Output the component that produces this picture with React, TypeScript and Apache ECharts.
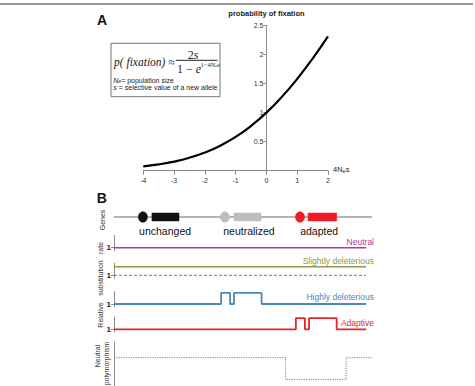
import React, { useEffect, useRef } from "react";
import * as echarts from "echarts";

// ---------- Panel A data ----------
const fixX = [-4, -3.5, -3, -2.5, -2, -1.5, -1, -0.5, 0, 0.5, 1, 1.5, 2];
const fixP = [0.075, 0.109, 0.157, 0.224, 0.313, 0.431, 0.582, 0.771, 1.0, 1.271, 1.582, 1.931, 2.313];
const xTicksA = [-4, -3, -2, -1, 0, 1, 2];
const yTicksA = [0.5, 1, 1.5, 2, 2.5];

// ---------- Panel B data (x along the gene, 0..100) ----------
const geneNames = ["unchanged", "neutralized", "adapted"];
const geneColors = ["#111111", "#bdbdbd", "#ee1d23"];
const geneDotX = [11.2, 43.0, 72.1];
const geneStartX = [14.7, 46.5, 75.2];
const geneEndX = [25.2, 57.0, 86.3];
const geneLabelX = [19.8, 52.3, 79.5];
const geneLine = [[0, 0.5], [100, 0.5]];

const rowNames = ["Neutral", "Slightly deleterious", "Highly deleterious", "Adaptive"];
const rowColors = ["#b03a9e", "#8e9b4e", "#4a88bd", "#e5252a"];
const neutralRate = [[0, 1], [97.7, 1]];
const slightRate = [[0, 1.77], [97.7, 1.77]];
const slightBase = [[0, 1], [97.7, 1]];
const highRate = [[0, 1], [41.5, 1], [41.5, 2], [45, 2], [45, 1], [46.5, 1], [46.5, 2], [57.2, 2], [57.2, 1], [97.7, 1]];
const adaptiveRate = [[0, 1], [70.5, 1], [70.5, 2], [74, 2], [74, 1], [75.6, 1], [75.6, 2], [86.3, 2], [86.3, 1], [97.7, 1]];
const polymorphism = [[0, 0.643], [66.5, 0.643], [66.5, 0.152], [90, 0.152], [90, 0.643], [100, 0.643]];

const SANS = "'Liberation Sans', Arial, sans-serif";
const SERIF = "'Liberation Serif', 'Times New Roman', serif";
const AX = "#8a8a8a";

export default function App() {
  const ref = useRef<HTMLDivElement>(null);
  useEffect(() => {
    if (!ref.current) return;
    const chart = echarts.init(ref.current, null, { renderer: "svg" });

    const gridA = { left: 143.3, top: 25.5, width: 184.7, height: 145.2 };
    const zeroOffset = -gridA.width * (4 / 6);
    const rowTops = [235.5, 263.1, 291.8, 317.1];
    const grids: any[] = [
      gridA,
      { left: 114, top: 210, width: 258, height: 14 },
      ...rowTops.map((t) => ({ left: 114, top: t, width: 258, height: 15 })),
      { left: 114, top: 342, width: 258, height: 44 },
    ];

    const xAxes: any[] = [
      {
        gridIndex: 0, type: "value", min: -4, max: 2, interval: 1,
        axisLine: { onZero: false, lineStyle: { color: AX, width: 1 } },
        axisTick: { length: 4, lineStyle: { color: AX }, customValues: xTicksA },
        axisLabel: { color: "#333", fontSize: 7, fontFamily: SANS, margin: 6, customValues: xTicksA },
        splitLine: { show: false },
        name: "4N{e|e}s", nameLocation: "end", nameGap: 5,
        nameTextStyle: {
          color: "#222", fontSize: 7.5, fontFamily: SANS, padding: [0, 0, 2, 0],
          rich: { e: { fontSize: 5.5, fontFamily: SANS, color: "#222", verticalAlign: "bottom" } },
        },
      },
    ];
    for (let g = 1; g < grids.length; g++) {
      xAxes.push({ gridIndex: g, type: "value", min: 0, max: 100, show: false });
    }

    const yAxes: any[] = [
      {
        gridIndex: 0, type: "value", min: 0, max: 2.5, interval: 0.5, position: "left", offset: zeroOffset,
        axisLine: { onZero: false, lineStyle: { color: AX, width: 1 } },
        axisTick: { length: 3, lineStyle: { color: AX }, customValues: yTicksA },
        axisLabel: { color: "#333", fontSize: 7, fontFamily: SANS, margin: 3, customValues: yTicksA },
        splitLine: { show: false },
        name: "probability of fixation", nameLocation: "end", nameGap: 8,
        nameTextStyle: { color: "#222", fontSize: 7.5, fontWeight: "bold", fontFamily: SANS },
      },
      { gridIndex: 1, type: "value", min: 0, max: 1, show: false },
    ];
    for (let r = 0; r < 4; r++) {
      yAxes.push({
        gridIndex: 2 + r, type: "value", min: 0.75, max: 2.1,
        axisLine: { show: true, lineStyle: { color: AX, width: 1 } },
        axisTick: { show: true, length: 3, lineStyle: { color: AX }, customValues: [1] },
        axisLabel: { show: true, color: "#222", fontSize: 8, fontWeight: "bold", fontFamily: SANS, margin: 3, customValues: [1] },
        splitLine: { show: false },
      });
    }
    yAxes.push({
      gridIndex: 6, type: "value", min: 0, max: 1,
      axisLine: { show: true, lineStyle: { color: AX, width: 1 } },
      axisTick: { show: false }, axisLabel: { show: false }, splitLine: { show: false },
    });

    const lineBase = { type: "line", symbol: "none", silent: true };

    const series: any[] = [
      {
        ...lineBase, xAxisIndex: 0, yAxisIndex: 0, smooth: true,
        data: fixX.map((x, i) => [x, fixP[i]]),
        lineStyle: { color: "#000", width: 2.2 },
      },
      { ...lineBase, xAxisIndex: 1, yAxisIndex: 1, z: 1, data: geneLine, lineStyle: { color: "#b5b5b5", width: 2 } },
      {
        type: "custom", xAxisIndex: 1, yAxisIndex: 1, silent: true, z: 5,
        data: geneNames.map((_, i) => [geneDotX[i], geneStartX[i], geneEndX[i], geneLabelX[i], 0.5]),
        renderItem: (params: any, api: any) => {
          const i = params.dataIndex;
          const dot = api.coord([api.value(0), api.value(4)]);
          const s = api.coord([api.value(1), api.value(4)]);
          const e = api.coord([api.value(2), api.value(4)]);
          const lab = api.coord([api.value(3), api.value(4)]);
          return {
            type: "group",
            children: [
              { type: "ellipse", shape: { cx: dot[0], cy: dot[1], rx: 4.6, ry: 5.3 }, style: { fill: geneColors[i], stroke: geneColors[i], lineWidth: 0.5 } },
              { type: "rect", shape: { x: s[0], y: s[1] - 4, width: e[0] - s[0], height: 8 }, style: { fill: geneColors[i], stroke: geneColors[i], lineWidth: 0.5 } },
              {
                type: "text", x: lab[0], y: lab[1] + 14,
                style: { text: geneNames[i], fill: "#111", fontSize: 10.5, fontFamily: SANS, textAlign: "center", textVerticalAlign: "middle" },
              },
            ],
          };
        },
      },
      { ...lineBase, xAxisIndex: 2, yAxisIndex: 2, data: neutralRate, lineStyle: { color: rowColors[0], width: 1.6 } },
      { ...lineBase, xAxisIndex: 3, yAxisIndex: 3, data: slightBase, lineStyle: { color: "#777", width: 1, type: [3, 2] } },
      { ...lineBase, xAxisIndex: 3, yAxisIndex: 3, data: slightRate, lineStyle: { color: rowColors[1], width: 1.6 } },
      { ...lineBase, xAxisIndex: 4, yAxisIndex: 4, data: highRate, lineStyle: { color: rowColors[2], width: 1.8 } },
      { ...lineBase, xAxisIndex: 5, yAxisIndex: 5, data: adaptiveRate, lineStyle: { color: rowColors[3], width: 1.8 } },
      { ...lineBase, xAxisIndex: 6, yAxisIndex: 6, data: polymorphism, lineStyle: { color: "#999", width: 1.2, type: "dotted" } },
    ];

    const rowLabelY = [241.7, 261, 296.7, 323.3];
    const txt = (x: number, y: number, text: string, style: any, rotation = 0) => ({
      type: "text", x, y, rotation, silent: true,
      style: { text, fill: "#222", fontFamily: SANS, textAlign: "center", textVerticalAlign: "middle", ...style },
    });

    const graphic: any[] = [
      { type: "line", silent: true, shape: { x1: 0, y1: 4, x2: 473, y2: 4 }, style: { stroke: "#9a9a9a", lineWidth: 2 } },
      txt(102, 20, "A", { fontSize: 14, fontWeight: "bold", fill: "#111" }),
      txt(101.7, 198, "B", { fontSize: 14, fontWeight: "bold", fill: "#111" }),
      // formula box
      { type: "rect", silent: true, shape: { x: 111, y: 43.3, width: 109, height: 53.4 }, style: { fill: "#fff", stroke: "#777", lineWidth: 1 } },
      txt(114, 61.7, "p( fixation) \u2248", { fontFamily: SERIF, fontSize: 11.5, fontStyle: "italic", textAlign: "left" }),
      txt(193, 55, "2{i|s}", { fontFamily: SERIF, fontSize: 12, rich: { i: { fontFamily: SERIF, fontSize: 12, fontStyle: "italic" } } }),
      { type: "line", silent: true, shape: { x1: 176, y1: 60.3, x2: 217.5, y2: 60.3 }, style: { stroke: "#222", lineWidth: 1 } },
      txt(177, 68.5, "1 \u2212 {i|e}", { fontFamily: SERIF, fontSize: 12, textAlign: "left", rich: { i: { fontFamily: SERIF, fontSize: 12, fontStyle: "italic" } } }),
      txt(200.5, 64, "1\u22124{i|N}{s|e}{i|s}", {
        fontFamily: SERIF, fontSize: 6.5, textAlign: "left",
        rich: {
          i: { fontFamily: SERIF, fontSize: 6.5, fontStyle: "italic" },
          s: { fontFamily: SERIF, fontSize: 5, fontStyle: "italic", verticalAlign: "bottom" },
        },
      }),
      txt(113.3, 80, "{i|N}{s|e}= population size", {
        fontSize: 7, textAlign: "left",
        rich: { i: { fontSize: 7, fontFamily: SANS, fontStyle: "italic" }, s: { fontSize: 5, fontFamily: SANS, fontStyle: "italic", verticalAlign: "bottom" } },
      }),
      txt(113.3, 87.7, "{i|s} = selective value of a new allele", {
        fontSize: 7, textAlign: "left", rich: { i: { fontSize: 7, fontFamily: SANS, fontStyle: "italic" } },
      }),
      // side labels
      txt(102, 220, "Genes", { fontSize: 7, fill: "#333" }, Math.PI / 2),
      txt(100, 248, "rate", { fontSize: 7, fill: "#333" }, Math.PI / 2),
      txt(100, 278, "substitution", { fontSize: 7, fill: "#333" }, Math.PI / 2),
      txt(100, 315, "Relative", { fontSize: 7, fill: "#333" }, Math.PI / 2),
      txt(97.5, 356, "Neutral", { fontSize: 7, fill: "#333" }, Math.PI / 2),
      txt(106, 363.5, "polymorphism", { fontSize: 7, fill: "#333" }, Math.PI / 2),
      ...rowNames.map((n, i) => txt(374, rowLabelY[i], n, { fontSize: 8.5, fill: rowColors[i], textAlign: "right" })),
    ];

    chart.setOption({
      animation: false,
      backgroundColor: "#ffffff",
      grid: grids,
      xAxis: xAxes,
      yAxis: yAxes,
      series,
      graphic,
    });
    return () => chart.dispose();
  }, []);

  return (
    <div
      ref={ref}
      style={{ position: "absolute", left: 0, top: 0, width: 475, height: 386, background: "#fff" }}
    />
  );
}
